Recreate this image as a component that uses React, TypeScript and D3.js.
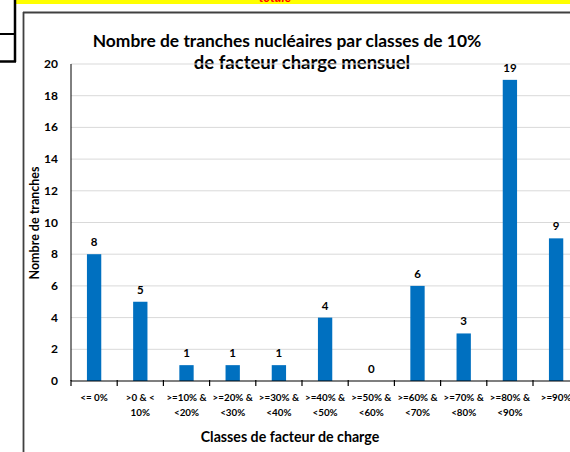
import React from "react"
import * as d3 from "d3"

const WIDTH = 570
const HEIGHT = 452

const categories = [
    ["<= 0%"],
    [">0 & <", "10%"],
    [">=10% &", "<20%"],
    [">=20% &", "<30%"],
    [">=30% &", "<40%"],
    [">=40% &", "<50%"],
    [">=50% &", "<60%"],
    [">=60% &", "<70%"],
    [">=70% &", "<80%"],
    [">=80% &", "<90%"],
    [">=90%"],
]
const values = [8, 5, 1, 1, 1, 4, 0, 6, 3, 19, 9]
const yTicks = [0, 2, 4, 6, 8, 10, 12, 14, 16, 18, 20]

const FONT = "Lato, 'Open Sans', sans-serif"
const BAR = "#0070C0"

const PLOT = { left: 71, top: 64, bottom: 381, bandW: 46.2 }

const App: React.FC = () => {
    const idx = d3.range(categories.length)
    const x = d3
        .scaleBand<number>()
        .domain(idx)
        .range([PLOT.left, PLOT.left + PLOT.bandW * categories.length])
        .padding(0)
    const y = d3.scaleLinear().domain([0, 20]).range([PLOT.bottom, PLOT.top])
    const barW = x.bandwidth() * 0.31

    return (
        <svg
            width={WIDTH}
            height={HEIGHT}
            style={{ position: "absolute", left: 0, top: 0, background: "#fff" }}
        >
            {/* bout de la feuille au-dessus */}
            <rect x={16} y={0} width={WIDTH - 16} height={4} fill="#ffff00" />
            <text
                x={275}
                y={1.5}
                textAnchor="middle"
                fontFamily={FONT}
                fontWeight="bold"
                fontStyle="italic"
                fontSize={13}
                fill="#ff0000"
            >
                totale
            </text>
            <line x1={15} y1={0} x2={15} y2={62} stroke="#000" strokeWidth={2.5} />
            <line x1={0} y1={34} x2={15} y2={34} stroke="#000" strokeWidth={2} />
            <line x1={0} y1={61.5} x2={16} y2={61.5} stroke="#000" strokeWidth={2.5} />

            {/* cadre du graphique */}
            <line x1={23} y1={12.5} x2={WIDTH} y2={12.5} stroke="#404040" strokeWidth={1.8} />
            <line x1={23.5} y1={12} x2={23.5} y2={HEIGHT} stroke="#404040" strokeWidth={1.8} />

            {/* titre */}
            <text
                x={287}
                y={47}
                textAnchor="middle"
                fontFamily={FONT}
                fontWeight="bold"
                fontSize={17.4}
                fill="#000"
            >
                Nombre de tranches nucléaires par classes de 10%
            </text>
            <text
                x={302}
                y={69}
                textAnchor="middle"
                fontFamily={FONT}
                fontWeight="bold"
                fontSize={18.5}
                fill="#000"
            >
                de facteur charge mensuel
            </text>

            {/* grille */}
            {yTicks.slice(1).map(t => (
                <line
                    key={t}
                    x1={PLOT.left}
                    x2={WIDTH}
                    y1={y(t)}
                    y2={y(t)}
                    stroke="#d9d9d9"
                    strokeWidth={1}
                />
            ))}

            {/* axe Y */}
            <line x1={PLOT.left} x2={PLOT.left} y1={y(20)} y2={y(0)} stroke="#000" strokeWidth={1} />
            {yTicks.map(t => (
                <text
                    key={t}
                    x={58}
                    y={y(t) + 4}
                    textAnchor="end"
                    fontFamily={FONT}
                    fontWeight="bold"
                    fontSize={12}
                    fill="#000"
                >
                    {t}
                </text>
            ))}
            <text
                transform="translate(39,223) rotate(-90)"
                textAnchor="middle"
                fontFamily={FONT}
                fontWeight="bold"
                fontSize={12.5}
                fill="#000"
            >
                Nombre de tranches
            </text>

            {/* barres */}
            {values.map((v, i) => {
                const cx = x(i)! + x.bandwidth() / 2
                return (
                    <g key={i}>
                        <rect
                            x={cx - barW / 2}
                            y={y(v)}
                            width={barW}
                            height={y(0) - y(v)}
                            fill={BAR}
                        />
                        <text
                            x={cx}
                            y={y(v) - 8}
                            textAnchor="middle"
                            fontFamily={FONT}
                            fontWeight="bold"
                            fontSize={11.5}
                            fill="#000"
                        >
                            {v}
                        </text>
                    </g>
                )
            })}

            {/* axe X */}
            <line x1={PLOT.left} x2={WIDTH} y1={y(0)} y2={y(0)} stroke="#000" strokeWidth={1.2} />
            {d3.range(categories.length + 1).map(i => {
                const tx = PLOT.left + i * x.bandwidth()
                return (
                    <line key={i} x1={tx} x2={tx} y1={y(0) - 1} y2={y(0) + 5} stroke="#000" strokeWidth={1.2} />
                )
            })}
            {categories.map((lines, i) => (
                <text
                    key={i}
                    x={x(i)! + x.bandwidth() / 2}
                    textAnchor="middle"
                    fontFamily={FONT}
                    fontWeight="bold"
                    fontSize={9.8}
                    fill="#000"
                >
                    {lines.map((l, j) => (
                        <tspan key={j} x={x(i)! + x.bandwidth() / 2} y={401 + j * 15}>
                            {l}
                        </tspan>
                    ))}
                </text>
            ))}
            <text
                x={290}
                y={442}
                textAnchor="middle"
                fontFamily={FONT}
                fontWeight="bold"
                fontSize={14.2}
                fill="#000"
            >
                Classes de facteur de charge
            </text>
        </svg>
    )
}

export default App
